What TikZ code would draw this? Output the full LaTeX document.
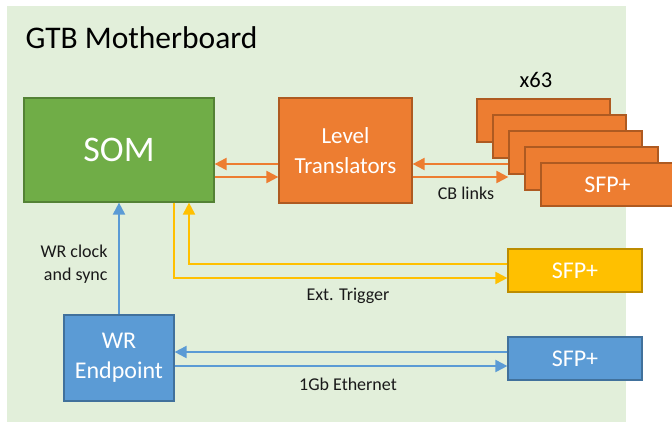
\documentclass[tikz,border=0pt]{standalone}
\usepackage{fontspec}
\setmainfont{Carlito}
\usetikzlibrary{arrows.meta}
\usepackage{xcolor}
\definecolor{fondo}{HTML}{E2EFDA}
\definecolor{verde}{HTML}{70AD47}
\definecolor{verdeb}{HTML}{548235}
\definecolor{naranja}{HTML}{ED7D31}
\definecolor{naranjab}{HTML}{AE5A21}
\definecolor{amarillo}{HTML}{FFC000}
\definecolor{amarillob}{HTML}{BC8C00}
\definecolor{azul}{HTML}{5B9BD5}
\definecolor{azulb}{HTML}{41719C}

\begin{document}
\begin{tikzpicture}[x=1pt,y=-1pt,
    caja/.style={draw,line width=1.2pt,text=white,inner sep=0pt},
    flecha/.style={line width=2pt,-{Triangle[length=12pt,width=12pt]}},
    etiqueta/.style={text=black!90,font=\fontsize{18}{23}\selectfont}]
            \useasboundingbox (0,0) rectangle (672,423);
            \fill[fondo] (7,6) rectangle (626,422); % placa
            \node[anchor=base west,font=\fontsize{31.5}{37}\selectfont] (titulo) at (22,48) {GTB Motherboard};
            % bloques
            \node[caja,fill=verde,draw=verdeb,minimum width=190pt,minimum height=104pt,font=\fontsize{36}{43}\selectfont] (som) at (119,150) {SOM};
            \node[caja,fill=naranja,draw=naranjab,minimum width=133pt,minimum height=105pt,align=center,font=\fontsize{23}{30}\selectfont] (lt) at (345.5,150.5) {Level\\Translators};
            \foreach \i in {0,...,3}
            \node[caja,fill=naranja,draw=naranjab,minimum width=133pt,minimum height=43pt] (sfp\i) at (543.5+16*\i,120.5+16*\i) {};
            \node[caja,fill=naranja,draw=naranjab,minimum width=133pt,minimum height=43pt,font=\fontsize{24}{28}\selectfont] (sfp4) at (607.5,184.5) {SFP+};
            \node[font=\fontsize{22.5}{27}\selectfont] (copias) at (536,80) {x63};
            \node[caja,fill=amarillo,draw=amarillob,minimum width=134pt,minimum height=43pt,font=\fontsize{24}{28}\selectfont] (sfpy) at (575,270.5) {SFP+};
            \node[caja,fill=azul,draw=azulb,minimum width=110pt,minimum height=86pt,align=center,font=\fontsize{24}{30}\selectfont] (wr) at (119,358) {WR\\Endpoint};
            \node[caja,fill=azul,draw=azulb,minimum width=134pt,minimum height=43pt,font=\fontsize{24}{28}\selectfont] (sfpb) at (575,358.5) {SFP+};
            % enlaces
            \draw[flecha,naranja] (lt.west |- 0,164) -- (som.east |- 0,164);
            \draw[flecha,naranja] (som.east |- 0,177) -- (lt.west |- 0,177);
            \draw[flecha,naranja] (sfp2.west |- 0,164) -- (lt.east |- 0,164);
            \draw[flecha,naranja] (lt.east |- 0,177) -- (sfp2.west |- 0,177);
            \draw[flecha,amarillo] (sfpy.west |- 0,264) -| (som.south -| 189,0);
            \draw[flecha,amarillo] (som.south -| 174,0) |- (sfpy.west |- 0,278);
            \draw[flecha,azul] (wr.north) -- (som.south);
            \draw[flecha,azul] (sfpb.west |- 0,352) -- (wr.east |- 0,352);
            \draw[flecha,azul] (wr.east |- 0,366) -- (sfpb.west |- 0,366);
            % etiquetas
            \node[etiqueta] (cb) at (466,193) {CB links};
            \node[etiqueta] (trig) at (348,296) {Ext. Trigger};
            \node[etiqueta] (eth) at (348,384) {1Gb Ethernet};
            \node[etiqueta,anchor=east,align=right] (sync) at (111,264) {WR clock\\and sync};
\end{tikzpicture}
\end{document}
